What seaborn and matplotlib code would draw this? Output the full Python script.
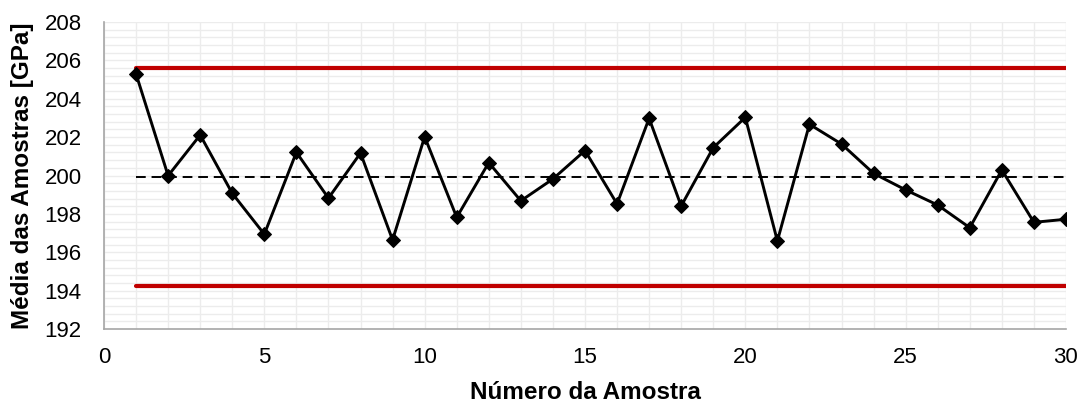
import matplotlib
matplotlib.use("Agg")
import matplotlib.pyplot as plt
import seaborn as sns
import pandas as pd
import numpy as np
from matplotlib.ticker import MultipleLocator

sample = list(range(1, 31))
means = [205.29, 199.99, 202.11, 199.07, 196.94, 201.21, 198.82, 201.17, 196.64, 202.02,
         197.82, 200.67, 198.68, 199.82, 201.30, 198.52, 202.98, 198.41, 201.45, 203.03,
         196.59, 202.67, 201.64, 200.11, 199.25, 198.46, 197.28, 200.29, 197.56, 197.72]
ucl = 205.59
lcl = 194.24
center = 199.93

sns.set_style("white")
plt.rcParams['font.family'] = ['Liberation Sans', 'DejaVu Sans']
plt.rcParams['text.color'] = 'black'
plt.rcParams['axes.labelcolor'] = 'black'

df = pd.DataFrame({"x": sample, "y": means})
lim_df = pd.DataFrame({"x": [sample[0], sample[-1]], "ucl": [ucl, ucl], "lcl": [lcl, lcl], "c": [center, center]})

fig = plt.figure(figsize=(10.81, 4.03), dpi=100)
ax = fig.add_axes([0.0962, 0.1836, 0.8899, 0.7618])

sns.lineplot(data=lim_df, x="x", y="ucl", ax=ax, color="#C00000", linewidth=3, zorder=3)
sns.lineplot(data=lim_df, x="x", y="lcl", ax=ax, color="#C00000", linewidth=3, zorder=3)
sns.lineplot(data=lim_df, x="x", y="c", ax=ax, color="black", linewidth=1.4, linestyle=(0, (5, 3)), zorder=3)
sns.lineplot(data=df, x="x", y="y", ax=ax, color="black", linewidth=2.1, marker="D", markersize=7.5,
             markeredgecolor="black", markerfacecolor="black", zorder=4)

ax.set_xlim(0, 30)
ax.set_ylim(192, 208)
ax.xaxis.set_major_locator(MultipleLocator(5))
ax.xaxis.set_minor_locator(MultipleLocator(1))
ax.yaxis.set_major_locator(MultipleLocator(2))
ax.yaxis.set_minor_locator(MultipleLocator(0.4))
ax.grid(True, which="both", color="#ececec", linewidth=1)
ax.set_axisbelow(True)

for s in ["top", "right"]:
    ax.spines[s].set_visible(False)
for s in ["left", "bottom"]:
    ax.spines[s].set_color("#a6a6a6")
    ax.spines[s].set_linewidth(1.2)

ax.tick_params(axis="both", which="major", direction="out", length=5, width=1.2, color="#a6a6a6",
               labelsize=16, labelcolor="black")
ax.tick_params(axis="y", which="major", pad=11)
ax.tick_params(axis="x", which="major", pad=8)
ax.tick_params(axis="both", which="minor", length=0)

ax.set_xlabel("Número da Amostra", fontsize=17.5, fontweight="bold", color="black")
ax.set_ylabel("Média das Amostras [GPa]", fontsize=17.5, fontweight="bold", color="black")
ax.xaxis.set_label_coords(0.5, -0.168)
ax.yaxis.set_label_coords(-0.073, 0.5)

fig.savefig("out.png", dpi=100)
